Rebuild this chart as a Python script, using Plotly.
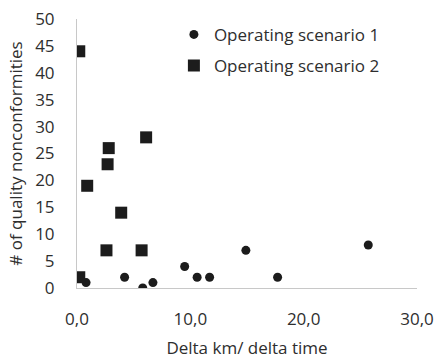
import plotly.graph_objects as go

# Operating scenario 1
s1_x = [0.8, 4.2, 5.8, 6.7, 9.5, 10.6, 11.7, 14.9, 17.7, 25.7]
s1_y = [1, 2, 0, 1, 4, 2, 2, 7, 2, 8]

# Operating scenario 2
s2_x = [0.2, 0.2, 0.9, 2.6, 2.7, 2.8, 3.9, 5.7, 6.1]
s2_y = [44, 2, 19, 7, 23, 26, 14, 7, 28]

x_ticks = [0, 10, 20, 30]
x_tick_labels = ["0,0", "10,0", "20,0", "30,0"]
y_ticks = [0, 5, 10, 15, 20, 25, 30, 35, 40, 45, 50]

ink = "#1c1c1c"
text_color = "#2e2e2e"
font_family = "Open Sans, Liberation Sans, sans-serif"

fig = go.Figure()
fig.add_trace(go.Scatter(
    x=s1_x, y=s1_y, mode="markers", name="Operating scenario 1",
    legendgroup="s1",
    marker=dict(symbol="circle", size=9, color=ink),
))
fig.add_trace(go.Scatter(
    x=s2_x, y=s2_y, mode="markers", name="Operating scenario 2",
    legendgroup="s2",
    marker=dict(symbol="square", size=12, color=ink),
))

fig.update_layout(
    width=436, height=359,
    margin=dict(l=77, r=19, t=19, b=71),
    paper_bgcolor="white", plot_bgcolor="white",
    font=dict(family=font_family, size=17, color=text_color),
    showlegend=True,
    legend=dict(
        x=0.285, y=1.008, xanchor="left", yanchor="top",
        bgcolor="rgba(0,0,0,0)", font=dict(size=17, color=text_color),
        itemsizing="trace", tracegroupgap=6,
    ),
    xaxis=dict(
        range=[0, 30], tickvals=x_ticks, ticktext=x_tick_labels,
        showgrid=False, zeroline=False, showline=True,
        linecolor="#c8c8c8", linewidth=1,
        ticks="outside", ticklen=16, tickcolor="rgba(0,0,0,0)",
        tickfont=dict(size=17), automargin=False,
        title=dict(text="Delta km/ delta time", font=dict(size=17), standoff=13),
    ),
    yaxis=dict(
        range=[0, 50], tickvals=y_ticks,
        showgrid=False, zeroline=False, showline=True,
        linecolor="#c8c8c8", linewidth=1,
        ticks="outside", ticklen=18, tickcolor="rgba(0,0,0,0)",
        tickfont=dict(size=17), automargin=False,
        title=dict(text="# of quality nonconformities", font=dict(size=17), standoff=8),
    ),
)

fig.write_html("out.html")
